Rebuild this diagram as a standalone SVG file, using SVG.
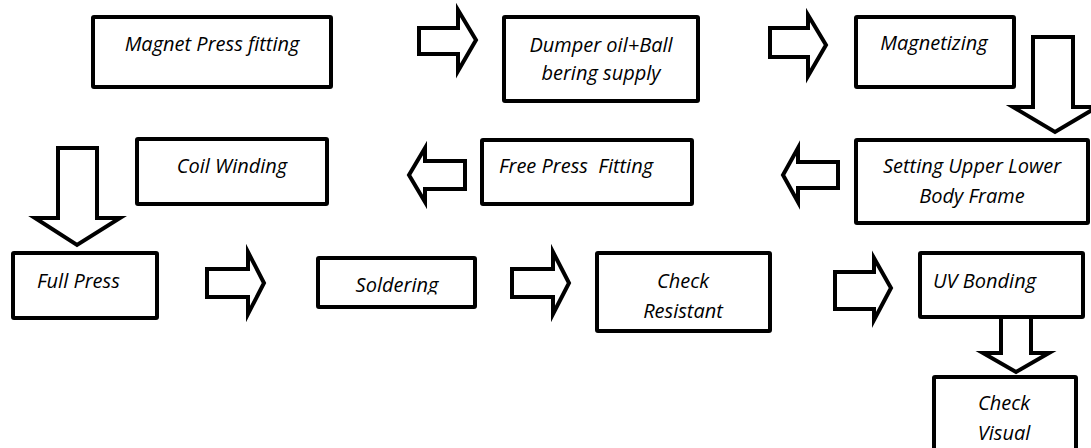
<svg xmlns="http://www.w3.org/2000/svg" width="1091" height="448" viewBox="0 0 1091 448">
<style>
.box{fill:#fff;stroke:#000;stroke-width:4;}
.arr{fill:#fff;stroke:#000;stroke-width:4;stroke-linejoin:miter;stroke-miterlimit:10;}
text{font-family:"Open Sans","Noto Sans","Liberation Sans",sans-serif;font-style:italic;font-size:20px;fill:#000;}
.c{text-anchor:middle;}
</style>
<defs>
<clipPath id="solclip"><rect x="318" y="258" width="157" height="36.5"/></clipPath>
</defs>
<rect width="1091" height="448" fill="#fff"/>
<g id="connectors">
<polygon class="arr" points="419,28 458,28 458,10 476,40 458,71 458,54 419,54"/>
<polygon class="arr" points="770,28 808,28 808,15 826,45 808,76 808,57 770,57"/>
<polygon class="arr" points="1033,37 1073,37 1073,107 1097,107 1055,132 1013,107 1033,107"/>
<polygon class="arr" points="465,161 425,161 425,148 409,175 425,202 425,189 465,189"/>
<polygon class="arr" points="838,162 798,162 798,148 783,175 798,202 798,188 838,188"/>
<polygon class="arr" points="58,148 97,148 97,218 120,218 77,245 35,218 58,218"/>
<polygon class="arr" points="207,269 248,269 248,252 264,283 248,314 248,297 207,297"/>
<polygon class="arr" points="512,269 553,269 553,252 569,283 553,314 553,297 512,297"/>
<polygon class="arr" points="835,272 874,272 874,258 891,288 874,320 874,309 835,309"/>
<polygon class="arr" points="1001,317 1031,317 1031,353 1049,353 1016,372 983,353 1001,353"/>
</g>
<g id="n-magnet-press"><rect class="box" x="93" y="17" width="238" height="70" rx="1"/><text class="c" x="212" y="51">Magnet Press fitting</text></g>
<g id="n-dumper"><rect class="box" x="504" y="17" width="194" height="84" rx="1"/><text class="c" x="601" y="52">Dumper oil+Ball</text><text class="c" x="601" y="80">bering supply</text></g>
<g id="n-magnetizing"><rect class="box" x="856" y="17" width="158" height="70" rx="1"/><text class="c" x="934" y="50">Magnetizing</text></g>
<g id="n-coil"><rect class="box" x="137" y="139" width="190" height="65" rx="1"/><text class="c" x="232" y="173">Coil Winding</text></g>
<g id="n-free"><rect class="box" x="482" y="140" width="210" height="64" rx="1"/><text class="c" x="576" y="173" xml:space="preserve">Free Press  Fitting</text></g>
<g id="n-setting"><rect class="box" x="856" y="140" width="232" height="83" rx="1"/><text class="c" x="972" y="173">Setting Upper Lower</text><text class="c" x="972" y="203">Body Frame</text></g>
<g id="n-full"><rect class="box" x="13" y="253" width="144" height="65" rx="1"/><text x="37" y="288">Full Press</text></g>
<g id="n-soldering"><rect class="box" x="318" y="258" width="157" height="49" rx="1"/><text class="c" x="397" y="292" clip-path="url(#solclip)">Soldering</text></g>
<g id="n-check-res"><rect class="box" x="597" y="253" width="173" height="78" rx="1"/><text class="c" x="683" y="288">Check</text><text class="c" x="683" y="318">Resistant</text></g>
<g id="n-uv"><rect class="box" x="920" y="253" width="163" height="64" rx="1"/><text x="933" y="288">UV Bonding</text></g>
<g id="n-check-vis"><rect class="box" x="934" y="377" width="142" height="90" rx="1"/><text class="c" x="1004" y="410">Check</text><text class="c" x="1004" y="440">Visual</text></g>
</svg>
